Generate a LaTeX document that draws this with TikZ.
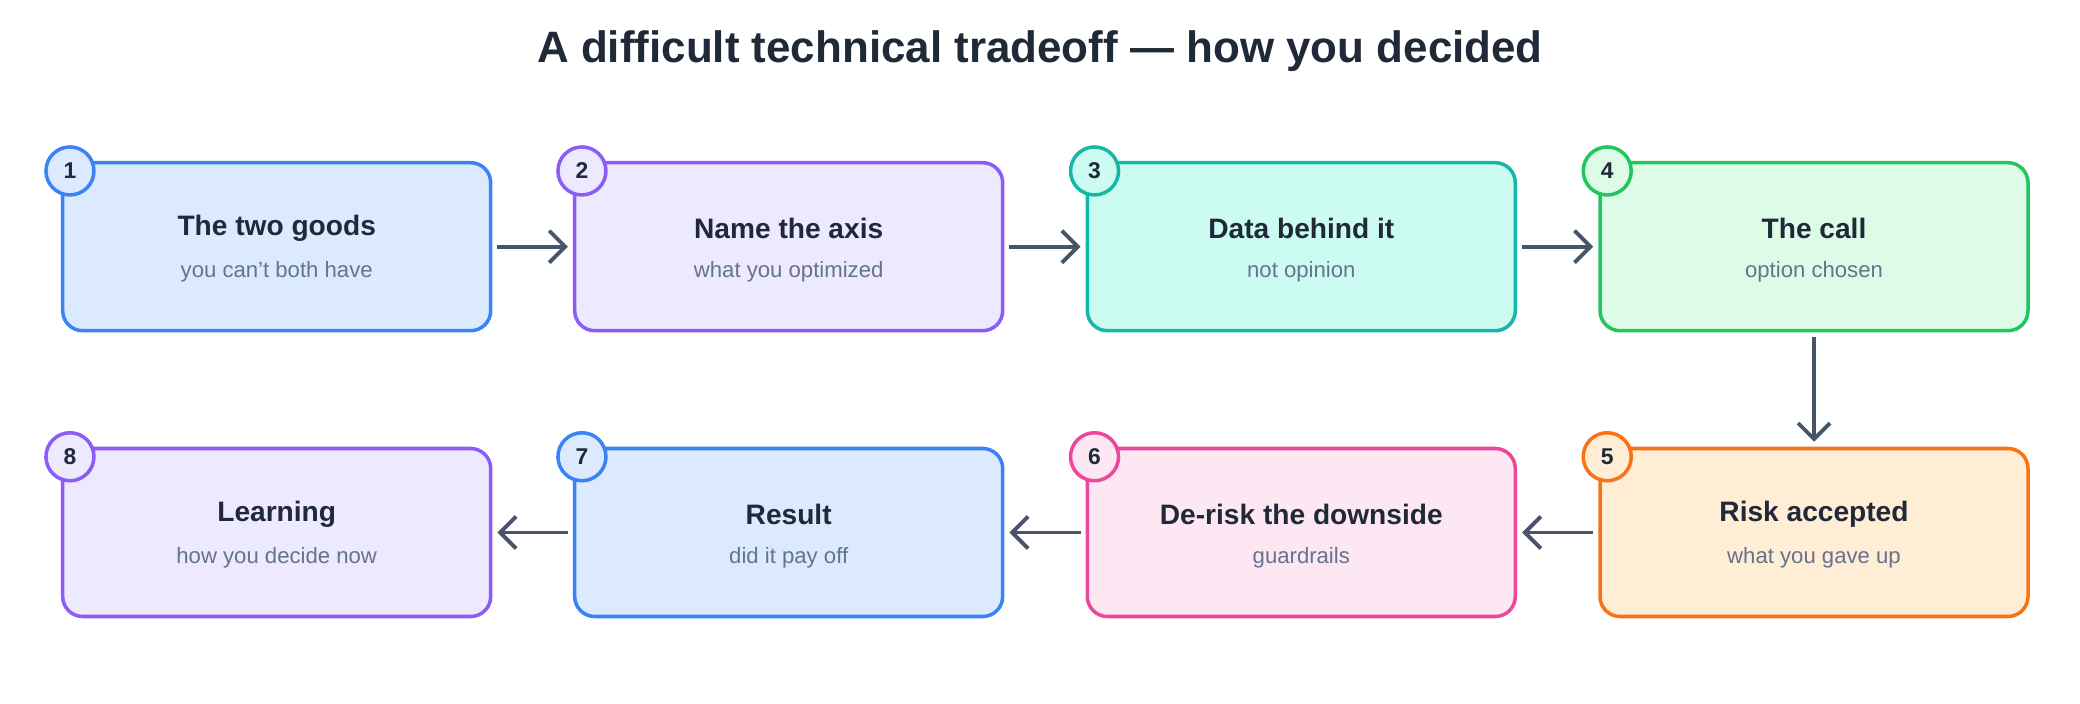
\documentclass[tikz,border=0pt]{standalone}
\usepackage{fontspec}
\setmainfont{Liberation Sans}
\usetikzlibrary{arrows.meta}
\definecolor{inkdark}{HTML}{1F2937}
\definecolor{inksub}{HTML}{64748B}
\definecolor{arrowgray}{HTML}{475569}
\definecolor{cblue}{HTML}{3B82F6}\definecolor{fblue}{HTML}{DBEAFE}
\definecolor{cpurple}{HTML}{8B5CF6}\definecolor{fpurple}{HTML}{EDE9FE}
\definecolor{cteal}{HTML}{14B8A6}\definecolor{fteal}{HTML}{CCFBF1}
\definecolor{cgreen}{HTML}{22C55E}\definecolor{fgreen}{HTML}{DCFCE7}
\definecolor{corange}{HTML}{F97316}\definecolor{forange}{HTML}{FFEDD5}
\definecolor{cpink}{HTML}{EC4899}\definecolor{fpink}{HTML}{FCE7F3}

\begin{document}
\begin{tikzpicture}[
    thestep/.style={draw=c#1,fill=f#1,line width=1pt,rounded corners=0.2cm,
      minimum width=4.28cm,minimum height=1.68cm},
    thebadge/.style={circle,draw=c#1,fill=f#1,line width=1pt,minimum size=0.48cm,
      inner sep=0pt,font=\bfseries\fontsize{6.5}{7}\selectfont,text=inkdark},
    theflow/.style={draw=arrowgray,line width=1.1pt,-{Straight Barb[length=1.6mm,width=3.2mm]}}
    ]
    \useasboundingbox (0,0) rectangle (20.8,-7.04);
    \node[font=\bfseries\fontsize{12.5}{14}\selectfont,text=inkdark] (title) at (10.4,-0.51)
      {A difficult technical tradeoff — how you decided};

    \foreach \n/\x/\y/\c/\t/\s in {
      1/2.767/-2.467/blue/The two goods/you can't both have,
      2/7.887/-2.467/purple/Name the axis/what you optimized,
      3/13.013/-2.467/teal/Data behind it/not opinion,
      4/18.140/-2.467/green/The call/option chosen,
      5/18.140/-5.325/orange/Risk accepted/what you gave up,
      6/13.013/-5.325/pink/De-risk the downside/guardrails / reversibility,
      7/7.887/-5.325/blue/Result/did it pay off,
      8/2.767/-5.325/purple/Learning/how you decide now} {
      \node[thestep=\c] (b\n) at (\x,\y) {};
      \node[font=\bfseries\fontsize{8}{9}\selectfont,text=inkdark] at ([yshift=0.18cm]b\n.center) {\t};
      \node[font=\fontsize{6.3}{7}\selectfont,text=inksub] at ([yshift=-0.25cm]b\n.center) {\s};
      \node[thebadge=\c] at ([xshift=0.09cm,yshift=-0.1cm]b\n.north west) {\n};
    }

    \draw[theflow] ([xshift=0.05cm]b1.east) -- ([xshift=-0.05cm]b2.west);
    \draw[theflow] ([xshift=0.05cm]b2.east) -- ([xshift=-0.05cm]b3.west);
    \draw[theflow] ([xshift=0.05cm]b3.east) -- ([xshift=-0.05cm]b4.west);
    \draw[theflow] ([yshift=-0.05cm]b4.south) -- ([yshift=0.05cm]b5.north);
    \draw[theflow] ([xshift=-0.05cm]b5.west) -- ([xshift=0.05cm]b6.east);
    \draw[theflow] ([xshift=-0.05cm]b6.west) -- ([xshift=0.05cm]b7.east);
    \draw[theflow] ([xshift=-0.05cm]b7.west) -- ([xshift=0.05cm]b8.east);
  \end{tikzpicture}
\end{document}
